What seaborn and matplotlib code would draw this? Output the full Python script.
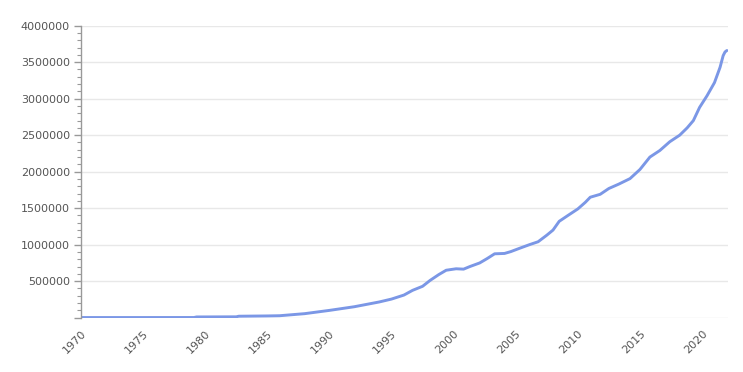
import numpy as np
import pandas as pd
import matplotlib
matplotlib.use('Agg')
import matplotlib.pyplot as plt
from matplotlib.ticker import MultipleLocator
from matplotlib.transforms import ScaledTranslation
import seaborn as sns

# values
years = [1970, 1975, 1979.1, 1979.3, 1982.5, 1982.7, 1985, 1986, 1988, 1990,
         1992, 1994, 1995, 1996, 1996.7, 1997.5, 1998.1, 1998.8, 1999.4, 2000.2,
         2000.8, 2001.3, 2002.1, 2002.7, 2003.3, 2004.1, 2004.6, 2005.3, 2006.1, 2006.8,
         2007.5, 2008, 2008.5, 2009.2, 2010, 2010.6, 2011, 2011.8, 2012.5, 2013.3,
         2014.2, 2015, 2015.8, 2016.6, 2017.4, 2018.2, 2018.8, 2019.3, 2019.8, 2020.4,
         2021, 2021.45, 2021.7, 2021.85, 2022]
values = [2000, 2000, 2500, 10000, 12000, 20000, 24000, 27000, 55000, 100000,
          150000, 215000, 255000, 310000, 375000, 430000, 510000, 590000, 650000, 670000,
          665000, 700000, 750000, 810000, 875000, 880000, 905000, 950000, 1000000, 1040000,
          1130000, 1200000, 1320000, 1400000, 1490000, 1580000, 1650000, 1690000, 1770000, 1830000,
          1905000, 2030000, 2200000, 2290000, 2410000, 2500000, 2600000, 2700000, 2880000, 3040000,
          3220000, 3430000, 3590000, 3640000, 3660000]

x_ticks = [1970, 1975, 1980, 1985, 1990, 1995, 2000, 2005, 2010, 2015, 2020]
y_ticks = [0, 500000, 1000000, 1500000, 2000000, 2500000, 3000000, 3500000, 4000000]

df = pd.DataFrame({'year': years, 'value': values})

sns.set_style('white')
fig = plt.figure(figsize=(7.43, 3.72), dpi=100)
ax = fig.add_axes([0.109, 0.146, 0.871, 0.785])

sns.lineplot(data=df, x='year', y='value', ax=ax, color='#7b97e6', linewidth=2.1)

ax.set_xlim(1970, 2022.1)
ax.set_ylim(0, 4000000)
ax.set_yticks(y_ticks)
ax.set_yticklabels([''] + [str(v) for v in y_ticks[1:]])
ax.yaxis.set_minor_locator(MultipleLocator(100000))
ax.set_xticks(x_ticks)
ax.set_xticklabels([str(y) for y in x_ticks], rotation=45, ha='right', rotation_mode='anchor')
# labels sit a little left of their year in the original
shift = ScaledTranslation(-0.08, 0, fig.dpi_scale_trans)
for lab in ax.get_xticklabels():
    lab.set_transform(lab.get_transform() + shift)

ax.grid(axis='y', color='#e8e8e8', linewidth=1)
ax.set_axisbelow(True)
for s in ['top', 'right', 'bottom']:
    ax.spines[s].set_visible(False)
ax.spines['left'].set_color('#999999')
ax.spines['left'].set_linewidth(1)

ax.tick_params(axis='y', which='major', length=5, width=1, color='#999999',
               labelsize=8, labelcolor='#555555', pad=3, left=True)
ax.tick_params(axis='y', which='minor', length=3, width=0.8, color='#999999', left=True)
ax.tick_params(axis='x', length=0, labelsize=8, labelcolor='#555555', pad=8)
ax.set_xlabel('')
ax.set_ylabel('')

fig.savefig('out.png', dpi=100)
